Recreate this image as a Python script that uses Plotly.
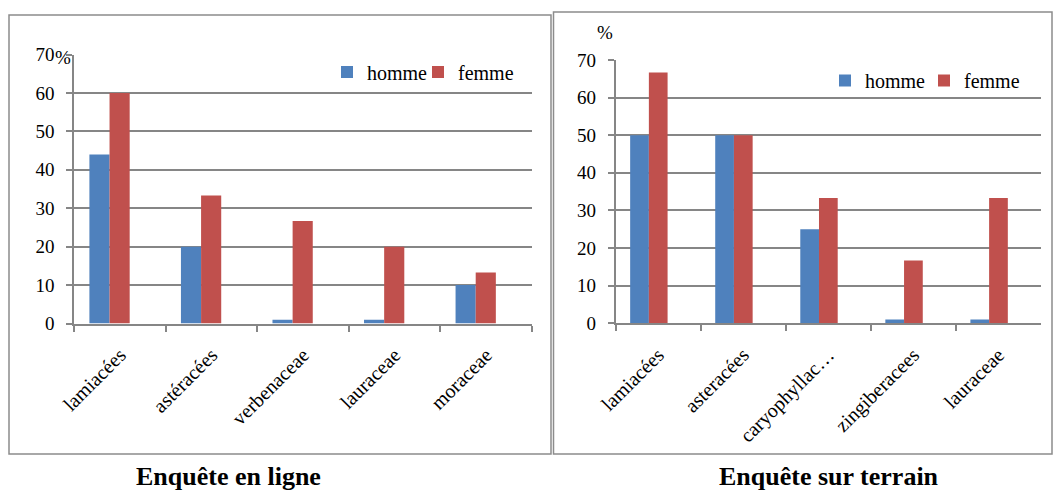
import plotly.graph_objects as go

# Enquête en ligne
cats_ligne = ["lamiacées", "astéracées", "verbenaceae", "lauraceae", "moraceae"]
homme_ligne = [44, 20, 1, 1, 10]
femme_ligne = [60, 33.3, 26.7, 20, 13.3]

# Enquête sur terrain
cats_terrain = ["lamiacées", "asteracées", "caryophyllac…", "zingiberacees", "lauraceae"]
homme_terrain = [50, 50, 25, 1, 1]
femme_terrain = [66.7, 50, 33.3, 16.7, 33.3]

y_ticks = [0, 10, 20, 30, 40, 50, 60, 70]

BLUE = "#4F81BD"
RED = "#C0504D"
GRAY = "#868686"
FONT = "Liberation Serif, Times New Roman, serif"

W, H = 1054, 491

def px_x(p):
    return p / W

def px_y(p):
    return 1 - p / H

fig = go.Figure()

# each legend entry gets its own legend box so it can be placed freely
bar_w = 0.22
fig.add_trace(go.Bar(x=cats_ligne, y=homme_ligne, name="homme", marker_color=BLUE,
                     width=bar_w, offset=-0.335, xaxis="x", yaxis="y", legend="legend"))
fig.add_trace(go.Bar(x=cats_ligne, y=femme_ligne, name="femme", marker_color=RED,
                     width=bar_w, offset=-0.115, xaxis="x", yaxis="y", legend="legend2"))
fig.add_trace(go.Bar(x=cats_terrain, y=homme_terrain, name="homme", marker_color=BLUE,
                     width=bar_w, offset=-0.33, xaxis="x2", yaxis="y2", legend="legend3"))
fig.add_trace(go.Bar(x=cats_terrain, y=femme_terrain, name="femme", marker_color=RED,
                     width=bar_w, offset=-0.11, xaxis="x2", yaxis="y2", legend="legend4"))

xaxis_common = dict(
    type="category", tickson="boundaries", ticks="outside", ticklen=6,
    tickcolor=GRAY, tickwidth=2, showline=True, linecolor=GRAY, linewidth=2,
    showgrid=False, tickangle=-45, ticklabelstandoff=10,
    tickfont=dict(family=FONT, size=20, color="black"),
    fixedrange=True, automargin=False,
)
yaxis_common = dict(
    range=[0, 70], tickvals=y_ticks, ticks="outside", ticklen=6, tickcolor=GRAY,
    tickwidth=2, showline=True, linecolor=GRAY, linewidth=2, showgrid=True,
    gridcolor=GRAY, gridwidth=2, zeroline=False, ticklabelstandoff=8,
    tickfont=dict(family=FONT, size=19, color="black"), fixedrange=True,
    automargin=False,
)

legend_common = dict(
    orientation="h", font=dict(family=FONT, size=20, color="black"),
    bgcolor="rgba(0,0,0,0)", itemwidth=30, tracegroupgap=0,
    xanchor="left", yanchor="middle",
)

fig.update_layout(
    template="none",
    width=W, height=H,
    margin=dict(l=0, r=0, t=0, b=0, autoexpand=False),
    paper_bgcolor="white", plot_bgcolor="white",
    barmode="overlay",
    xaxis=dict(domain=[px_x(74.3), px_x(532)], anchor="y", **xaxis_common),
    yaxis=dict(domain=[px_y(323.5), px_y(54.5)], anchor="x", **yaxis_common),
    xaxis2=dict(domain=[px_x(615.7), px_x(1041)], anchor="y2", **xaxis_common),
    yaxis2=dict(domain=[px_y(323.3), px_y(60)], anchor="x2", **yaxis_common),
    legend=dict(x=px_x(327), y=px_y(72), **legend_common),
    legend2=dict(x=px_x(418), y=px_y(72), **legend_common),
    legend3=dict(x=px_x(825), y=px_y(80.5), **legend_common),
    legend4=dict(x=px_x(924), y=px_y(80.5), **legend_common),
    showlegend=True,
    shapes=[
        dict(type="rect", xref="paper", yref="paper",
             x0=px_x(9), x1=px_x(551), y0=px_y(454), y1=px_y(15),
             line=dict(color="#8c8c8c", width=1.5)),
        dict(type="rect", xref="paper", yref="paper",
             x0=px_x(553.5), x1=px_x(1052), y0=px_y(454), y1=px_y(12),
             line=dict(color="#8c8c8c", width=1.5)),
    ],
    annotations=[
        dict(text="%", xref="paper", yref="paper", x=px_x(63), y=px_y(58),
             xanchor="center", yanchor="middle", showarrow=False,
             font=dict(family=FONT, size=19, color="black")),
        dict(text="%", xref="paper", yref="paper", x=px_x(605), y=px_y(33),
             xanchor="center", yanchor="middle", showarrow=False,
             font=dict(family=FONT, size=19, color="black")),
        dict(text="<b>Enquête en ligne</b>", xref="paper", yref="paper",
             x=px_x(228), y=px_y(476), xanchor="center", yanchor="middle",
             showarrow=False, font=dict(family=FONT, size=26, color="black")),
        dict(text="<b>Enquête sur terrain</b>", xref="paper", yref="paper",
             x=px_x(828.5), y=px_y(476), xanchor="center", yanchor="middle",
             showarrow=False, font=dict(family=FONT, size=26, color="black")),
    ],
)

fig.write_html("out.html")
